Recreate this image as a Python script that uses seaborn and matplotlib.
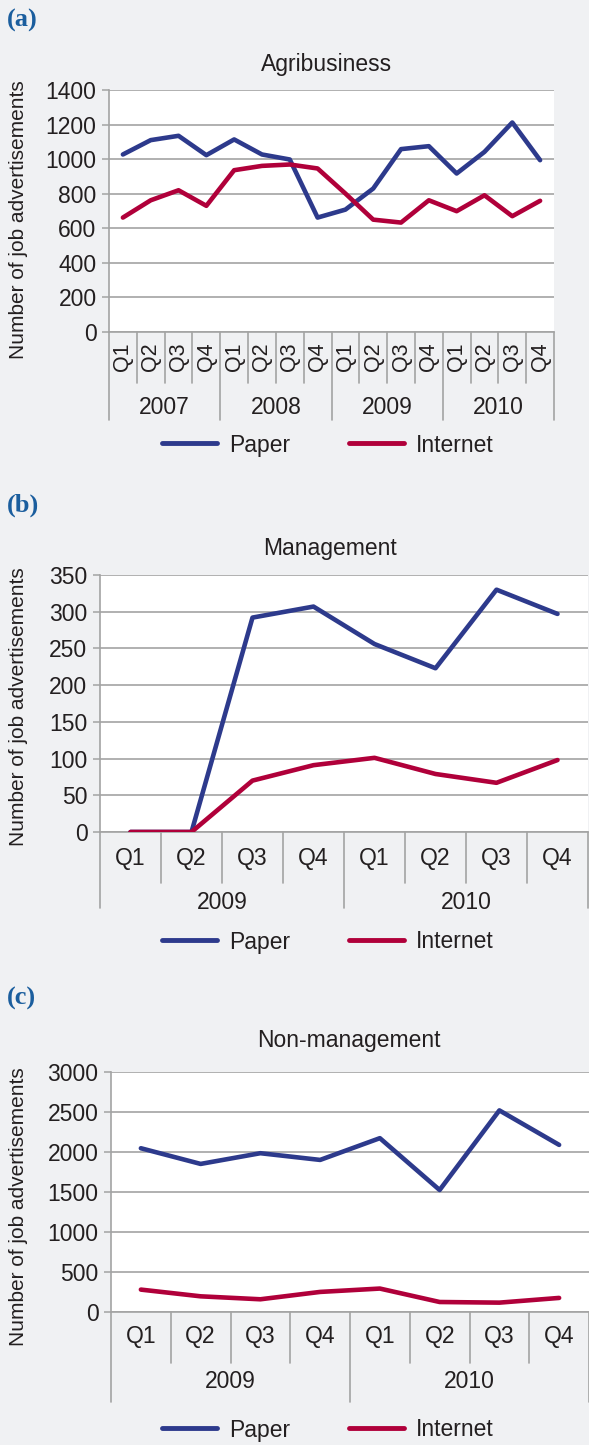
import pandas as pd
import seaborn as sns
import matplotlib.pyplot as plt
import numpy as np

# Data
quarters = ['Q1', 'Q2', 'Q3', 'Q4']
years_a = ['2007', '2008', '2009', '2010']
years_bc = ['2009', '2010']

agri_paper = [1027, 1110, 1135, 1023, 1114, 1027, 998, 662,
              708, 830, 1058, 1075, 917, 1042, 1212, 994]
agri_internet = [662, 762, 820, 730, 936, 961, 969, 946,
                 801, 650, 633, 762, 699, 791, 670, 759]

mgmt_paper = [0, 0, 292, 307, 256, 223, 330, 297]
mgmt_internet = [0, 0, 70, 91, 101, 79, 67, 98]

nonmgmt_paper = [2047, 1851, 1985, 1901, 2173, 1525, 2520, 2089]
nonmgmt_internet = [280, 196, 159, 251, 293, 125, 117, 176]

BG = '#f0f1f3'
GRID = '#a3a3a3'
PAPER = '#2d3a8c'
INTERNET = '#b0003a'
LABEL_BLUE = '#1b5e9e'
TEXT = '#231f20'

sns.set_style("white")
plt.rcParams['font.family'] = ['Liberation Sans', 'DejaVu Sans']

W, H = 589, 1445
fig = plt.figure(figsize=(W / 100, H / 100), dpi=100, facecolor=BG)


def px_axes(left, right, top, bottom):
    return fig.add_axes([left / W, 1 - bottom / H, (right - left) / W, (bottom - top) / H])


def make_df(years, paper, internet):
    periods = [y + ' ' + q for y in years for q in quarters]
    df = pd.DataFrame({'period': periods * 2,
                       'medium': ['Paper'] * len(periods) + ['Internet'] * len(periods),
                       'count': paper + internet})
    return df


def draw_panel(box, years, paper, internet, ymax, ystep, title, title_xy,
               panel_label, label_y, ylabel_y, q_y, q_rot, inner_end, outer_end,
               year_y, q_size):
    left, right, top, bottom = box
    ax = px_axes(left, right, top, bottom)
    ax.set_facecolor('white')
    df = make_df(years, paper, internet)
    sns.lineplot(data=df, x='period', y='count', hue='medium', sort=False,
                 palette={'Paper': PAPER, 'Internet': INTERNET},
                 hue_order=['Paper', 'Internet'],
                 linewidth=3.3, legend=False, ax=ax, zorder=3)
    for line in ax.lines:
        line.set_solid_capstyle('round')
        line.set_solid_joinstyle('round')
    n = len(years) * 4
    ax.set_xlim(-0.5, n - 0.5)
    ax.set_ylim(0, ymax)
    ax.set_yticks(np.arange(0, ymax + 1, ystep))
    ax.tick_params(axis='y', labelsize=16.5, labelcolor=TEXT, length=5, width=1.1,
                   color=GRID, pad=4, left=True)
    ax.set_xticks([])
    ax.set_xlabel('')
    ax.set_ylabel('')
    ax.grid(axis='y', color=GRID, linewidth=1.2)
    ax.set_axisbelow(True)
    for s in ['top', 'right']:
        ax.spines[s].set_visible(False)
    for s in ['left', 'bottom']:
        ax.spines[s].set_color(GRID)
        ax.spines[s].set_linewidth(1.2)

    h = bottom - top
    tr = ax.get_xaxis_transform()

    def yax(ypx):
        return (bottom - ypx) / h

    # quarter labels and separators
    for i in range(n):
        ax.text(i, yax(q_y), quarters[i % 4], transform=tr, ha='center', va='center',
                rotation=q_rot, fontsize=q_size, color=TEXT)
    for i in range(n + 1):
        end = outer_end if i % 4 == 0 else inner_end
        ax.plot([i - 0.5, i - 0.5], [0, yax(end)], transform=tr, color=GRID,
                linewidth=1.2, clip_on=False)
    for k, y in enumerate(years):
        ax.text(k * 4 + 1.5, yax(year_y), y, transform=tr, ha='center', va='center',
                fontsize=16.5, color=TEXT)

    fig.text(title_xy[0] / W, 1 - title_xy[1] / H, title, ha='center', va='center',
             fontsize=16.5, color=TEXT)
    fig.text(7 / W, 1 - label_y / H, panel_label, ha='left', va='center',
             fontsize=19, fontweight='bold', color=LABEL_BLUE,
             family=['Liberation Serif', 'DejaVu Serif'])
    fig.text(19 / W, 1 - ylabel_y / H, 'Number of job advertisements', rotation=90,
             ha='center', va='center', fontsize=15, color=TEXT)
    return ax


def add_legend(ypx):
    handles = [plt.Line2D([], [], color=PAPER, lw=3.5, solid_capstyle='round'),
               plt.Line2D([], [], color=INTERNET, lw=3.5, solid_capstyle='round')]
    fig.legend(handles, ['Paper', 'Internet'], loc='center', ncol=2,
               bbox_to_anchor=(328 / W, 1 - ypx / H), frameon=False,
               fontsize=16.5, handlelength=2.4, handletextpad=0.5, columnspacing=2.6,
               labelcolor=TEXT)


# (a) Agribusiness
draw_panel((109, 554, 90, 332), years_a, agri_paper, agri_internet, 1400, 200,
           'Agribusiness', (327, 65), '(a)', 20, 220, 357, 90, 383, 420, 407, 15.5)
add_legend(445)

# (b) Management
draw_panel((100, 588, 575, 832), years_bc, mgmt_paper, mgmt_internet, 350, 50,
           'Management', (330, 548), '(b)', 505, 707, 858, 0, 883, 908, 902, 16.5)
add_legend(942)

# (c) Non-management
draw_panel((111, 589, 1072, 1312), years_bc, nonmgmt_paper, nonmgmt_internet, 3000, 500,
           'Non-management', (349, 1040), '(c)', 998, 1207, 1337, 0, 1363, 1402, 1382, 16.5)
add_legend(1430)

fig.savefig('out.png', dpi=100, facecolor=BG)
